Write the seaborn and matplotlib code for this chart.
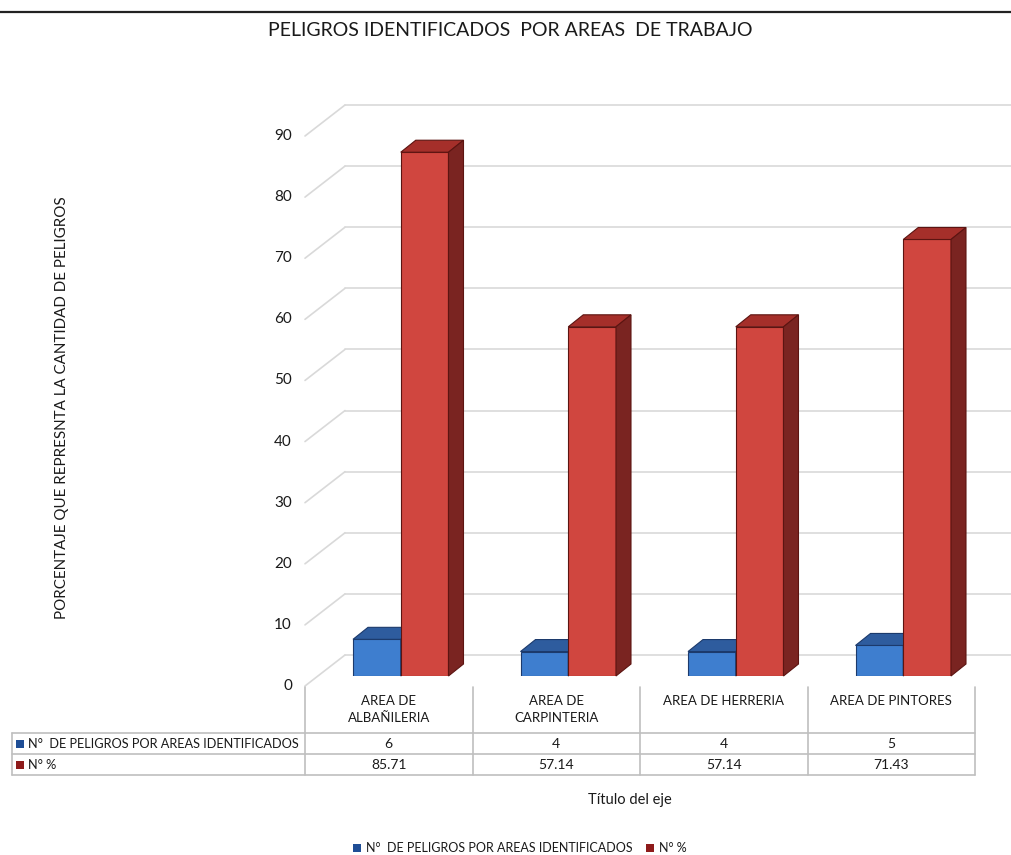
import numpy as np
import pandas as pd
import matplotlib
matplotlib.use("Agg")
import matplotlib.pyplot as plt
from matplotlib.patches import Polygon, Rectangle
from matplotlib.lines import Line2D
import seaborn as sns

# -------------------------
# Data
# -------------------------
areas = ["AREA DE\nALBAÑILERIA", "AREA DE\nCARPINTERIA", "AREA DE HERRERIA", "AREA DE PINTORES"]
series = ["N°  DE PELIGROS POR AREAS IDENTIFICADOS", "N° %"]
n_peligros = [6, 4, 4, 5]
porcentaje = [85.71, 57.14, 57.14, 71.43]
tabla_peligros = ["6", "4", "4", "5"]
tabla_pct = ["85.71", "57.14", "57.14", "71.43"]
y_ticks = [0, 10, 20, 30, 40, 50, 60, 70, 80, 90]

title = "PELIGROS IDENTIFICADOS  POR AREAS  DE TRABAJO"
y_label = "PORCENTAJE QUE REPRESNTA LA CANTIDAD DE PELIGROS"
x_label = "Título del eje"

df = pd.DataFrame({
    "area": areas * 2,
    "serie": [series[0]] * 4 + [series[1]] * 4,
    "valor": n_peligros + porcentaje,
})

# colours
blue = {"front": "#3E7ECF", "top": "#2E5C9E", "side": "#244B82", "edge": "#1C3A6C"}
red = {"front": "#D0463F", "top": "#A52F2A", "side": "#7A2421", "edge": "#5C1411"}
blue_mark = "#1F4E96"
red_mark = "#8E1B1B"
grid_col = "#D9D9D9"
table_col = "#BFBFBF"
text_col = "#1A1A1A"

W, H = 1011, 855

def fx(x):
    return x / W

def fy(y):
    return 1 - y / H

sns.set_theme(style="white")
plt.rcParams["font.family"] = ["Lato", "DejaVu Sans"]

fig = plt.figure(figsize=(W / 100, H / 100), dpi=100)
ax = fig.add_axes([317 / W, (H - 676) / H, 670 / W, 550 / H])

sns.barplot(data=df, x="area", y="valor", hue="serie", palette=[blue["front"], red["front"]],
            width=0.57, saturation=1, legend=False, ax=ax, errorbar=None)
ax.set_xlim(-0.5, 3.5)
ax.set_ylim(0, 90)
ax.set_axis_off()

# depth offsets (pixels)
front = (-12, -10)
back = (28, 21)
bar_d = (15, 12)

ident = matplotlib.transforms.IdentityTransform()

# back wall grid + left diagonals
x_left = ax.transData.transform((-0.5, 0))[0]
for v in y_ticks:
    yv = ax.transData.transform((0, v))[1]
    ax.add_line(Line2D([x_left + front[0], x_left + back[0]], [yv + front[1], yv + back[1]],
                       color=grid_col, lw=1.2, transform=ident, clip_on=False, zorder=0.5))
    ax.add_line(Line2D([x_left + back[0], W], [yv + back[1], yv + back[1]],
                       color=grid_col, lw=1.2, transform=ident, clip_on=False, zorder=0.5))
    fig.text(fx(x_left + front[0] - 13), (yv + front[1]) / H, str(v), ha="right", va="center",
             fontsize=11, color=text_col)

# 3D faces of the bars
for k, cont in enumerate(ax.containers):
    col = [blue, red][k]
    for p in cont.patches:
        p.set_edgecolor(col["edge"])
        p.set_linewidth(0.8)
        p.set_zorder(2 + 2 * k)
        (x0, y0), (x1, y1) = ax.transData.transform([(p.get_x(), 0), (p.get_x() + p.get_width(), p.get_height())])
        dx, dy = bar_d
        top = [(x0, y1), (x1, y1), (x1 + dx, y1 + dy), (x0 + dx, y1 + dy)]
        side = [(x1, y0), (x1 + dx, y0 + dy), (x1 + dx, y1 + dy), (x1, y1)]
        for verts, c in [(top, col["top"]), (side, col["side"])]:
            ax.add_patch(Polygon(verts, closed=True, facecolor=c, edgecolor=col["edge"], lw=0.8,
                                 transform=ident, clip_on=False, zorder=2.5 + 2 * k))

# -------------------------
# Data table
# -------------------------
col_edges = [ax.transData.transform((i - 0.5, 0))[0] + front[0] for i in range(len(areas) + 1)]
tab_left = 12
row_y = [687, 733, 754, 775]

def hline(x0, x1, y):
    fig.add_artist(Line2D([fx(x0), fx(x1)], [fy(y), fy(y)], color=table_col, lw=1.2))

def vline(x, y0, y1):
    fig.add_artist(Line2D([fx(x), fx(x)], [fy(y0), fy(y1)], color=table_col, lw=1.2))

for y in row_y[1:]:
    hline(tab_left, col_edges[-1], y)
for x in col_edges:
    vline(x, row_y[0], row_y[-1])
vline(tab_left, row_y[1], row_y[-1])

for i, name in enumerate(areas):
    cx = (col_edges[i] + col_edges[i + 1]) / 2
    fig.text(fx(cx), fy(695), name, ha="center", va="top", fontsize=9.5, color=text_col, linespacing=1.5)
    fig.text(fx(cx), fy((row_y[1] + row_y[2]) / 2), tabla_peligros[i], ha="center", va="center",
             fontsize=10, color=text_col)
    fig.text(fx(cx), fy((row_y[2] + row_y[3]) / 2), tabla_pct[i], ha="center", va="center",
             fontsize=10, color=text_col)

for j, (name, mk) in enumerate(zip(series, [blue_mark, red_mark])):
    yc = (row_y[1 + j] + row_y[2 + j]) / 2
    fig.add_artist(Rectangle((fx(16), fy(yc + 4)), 8 / W, 8 / H, facecolor=mk, edgecolor="none"))
    fig.text(fx(28), fy(yc), name, ha="left", va="center", fontsize=9.2, color=text_col)

# -------------------------
# Titles, labels, legend
# -------------------------
fig.add_artist(Line2D([0, 1], [fy(12), fy(12)], color="#222222", lw=1.6))
fig.text(fx(510), fy(31), title, ha="center", va="center", fontsize=14, color=text_col)
fig.text(fx(62), fy(408), y_label, ha="center", va="center", rotation=90, fontsize=10.9, color=text_col)
fig.text(fx(630), fy(800), x_label, ha="center", va="center", fontsize=10.5, color=text_col)

leg_x = [357, 650]
for name, mk, lx in zip(series, [blue_mark, red_mark], leg_x):
    fig.add_artist(Rectangle((fx(lx - 4), fy(848 + 4)), 8 / W, 8 / H, facecolor=mk, edgecolor="none"))
    fig.text(fx(lx + 9), fy(848), name, ha="left", va="center", fontsize=9, color=text_col)

fig.savefig("out.png", dpi=100)
